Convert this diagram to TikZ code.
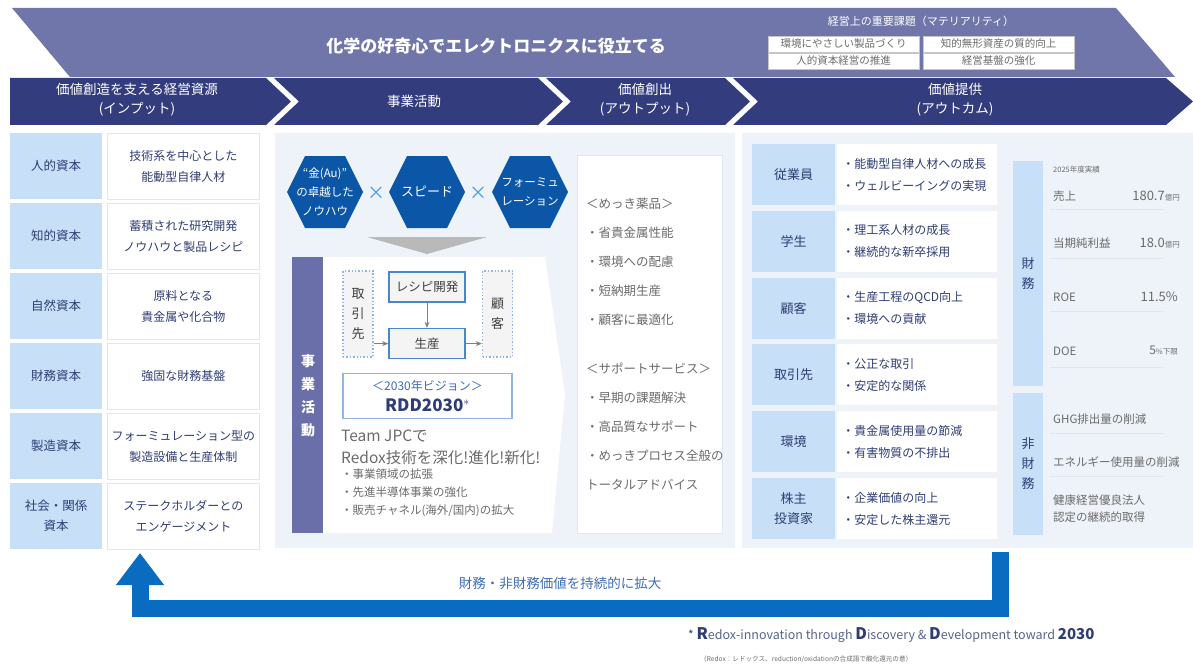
\documentclass[tikz,border=0pt]{standalone}
\usepackage{fontspec}
\setmainfont{Noto Sans CJK JP}
\usetikzlibrary{positioning,arrows.meta}

\definecolor{bannerlight}{HTML}{7076A9}
\definecolor{bannerdark}{HTML}{333D7D}
\definecolor{cellblue}{HTML}{C7E0F8}
\definecolor{panelbg}{HTML}{EEF3F9}
\definecolor{hexblue}{HTML}{0B56A6}
\definecolor{crossblue}{HTML}{3F9BE8}
\definecolor{navytext}{HTML}{2F3D73}
\definecolor{graytext}{HTML}{6B6B6B}
\definecolor{loopblue}{HTML}{0A6CC0}
\definecolor{stripviolet}{HTML}{6A6FA9}
\definecolor{framelight}{HTML}{DCE8F6}
\definecolor{stepblue}{HTML}{4A86CF}
\definecolor{boxgray}{HTML}{F4F4F4}
\definecolor{visionblue}{HTML}{3D6DB5}
\definecolor{sepgray}{HTML}{E2E6EC}

\begin{document}
\begin{tikzpicture}[x=1pt,y=-1pt,
    every node/.style={inner sep=0pt},
    bandtext/.style={text=white,align=center,font=\fontsize{13.5}{19}\selectfont},
    matbox/.style={fill=white,draw=gray!45,minimum width=151pt,minimum height=16pt,text=graytext,font=\fontsize{10.5}{12}\selectfont},
    capital/.style={fill=cellblue,text=navytext,minimum width=92pt,minimum height=66pt,align=center,font=\fontsize{12.5}{20}\selectfont},
    resource/.style={fill=white,draw=framelight,minimum width=152pt,minimum height=66pt,align=center,text=navytext,font=\fontsize{12}{21}\selectfont},
    hexlabel/.style={text=white,align=center,font=\fontsize{11.5}{19}\selectfont},
    times/.style={text=crossblue,font=\fontsize{18}{18}\selectfont},
    stepbox/.style={fill=boxgray,draw=stepblue,line width=1.6pt,minimum width=76pt,minimum height=30pt,text=darkgray,font=\fontsize{12.5}{14}\selectfont},
    partnerbox/.style={fill=boxgray,draw=stepblue!60,dotted,line width=1.4pt,minimum width=30pt,minimum height=86pt,align=center,text=darkgray,font=\fontsize{13}{20}\selectfont},
    flow/.style={-{Stealth[length=6pt,width=5pt]},draw=gray,line width=0.8pt},
    plaintext/.style={text=graytext,align=left},
    holder/.style={fill=cellblue,text=navytext,minimum width=83pt,minimum height=61pt,align=center,font=\fontsize{13}{20}\selectfont},
    gain/.style={fill=white,text=navytext,minimum height=61pt,text width=150pt,inner xsep=5pt,align=left,font=\fontsize{12}{22}\selectfont},
    finstrip/.style={fill=cellblue,text=navytext,minimum width=30pt,align=center,font=\fontsize{13}{20}\selectfont},
    fintext/.style={text=graytext,font=\fontsize{11.5}{17}\selectfont},
    sepline/.style={draw=sepgray,line width=0.8pt},
    looparrow/.style={draw=loopblue,line width=17pt,-{Triangle[width=46pt,length=32pt]}}]

\useasboundingbox (0,0) rectangle (1193,666);
\fill[white] (0,0) rectangle (1193,666);

% top banner
\fill[bannerlight] (12,8) -- (1116,8) -- (1175,77) -- (70,77) -- cycle;
\node[text=white,font=\fontsize{17}{20}\selectfont\bfseries] (motto) at (496,46) {化学の好奇心でエレクトロニクスに役立てる};
\node[text=white,font=\fontsize{11}{13}\selectfont] (materiality) at (921,21) {経営上の重要課題（マテリアリティ）};
\node[matbox] (mat1) at (843.5,44) {環境にやさしい製品づくり};
\node[matbox] (mat2) at (998.5,44) {知的無形資産の質的向上};
\node[matbox] (mat3) at (843.5,61) {人的資本経営の推進};
\node[matbox] (mat4) at (998.5,61) {経営基盤の強化};

% dark band with chevrons
\fill[bannerdark] (10,78) -- (266,78) -- (291,101.5) -- (266,125) -- (10,125) -- cycle;
\fill[bannerdark] (274,78) -- (538,78) -- (563,101.5) -- (538,125) -- (274,125) -- (299,101.5) -- cycle;
\fill[bannerdark] (546,78) -- (725,78) -- (750,101.5) -- (725,125) -- (546,125) -- (571,101.5) -- cycle;
\fill[bannerdark] (733,78) -- (1166,78) -- (1193,101.5) -- (1166,125) -- (733,125) -- (758,101.5) -- cycle;
\node[bandtext] (input) at (137,100) {価値創造を支える経営資源\\(インプット)};
\node[bandtext] (business) at (414,101) {事業活動};
\node[bandtext] (output) at (645,100) {価値創出\\(アウトプット)};
\node[bandtext] (outcome) at (955,100) {価値提供\\(アウトカム)};

% input capitals
\foreach \i/\lab/\txt in {
    0/人的資本/{技術系を中心とした\\能動型自律人材},
    1/知的資本/{蓄積された研究開発\\ノウハウと製品レシピ},
    2/自然資本/{原料となる\\貴金属や化合物},
    3/財務資本/{強固な財務基盤},
    4/製造資本/{フォーミュレーション型の\\製造設備と生産体制},
    5/{社会・関係\\資本}/{ステークホルダーとの\\エンゲージメント}}{
  \node[capital] (cap\i) at (56,166+70*\i) {\lab};
  \node[resource, right=5pt of cap\i] (res\i) {\txt};
}

% business activities panel
\fill[panelbg] (275,133) rectangle (735,548);
\foreach \cx/\name/\txt in {325/knowhow/{“金(Au)”\\の卓越した\\ノウハウ}, 427/speed/{\fontsize{13}{19}\selectfont スピード}, 530/formula/{フォーミュ\\レーション}}{
  \fill[hexblue] (\cx-38,192) -- (\cx-20,156) -- (\cx+20,156) -- (\cx+38,192) -- (\cx+20,228) -- (\cx-20,228) -- cycle;
  \node[hexlabel] (\name) at (\cx,192) {\txt};
}
\node[times] (x1) at (376,193) {×};
\node[times] (x2) at (478,193) {×};
\fill[gray!55] (367,237) -- (487,237) -- (427,254) -- cycle;

\fill[white] (292,257) -- (545,257) -- (565,395) -- (552,533) -- (292,533) -- cycle;
\fill[stripviolet] (292,257) rectangle (323,533);
\node[text=white,align=center,font=\fontsize{14}{23}\selectfont\bfseries] (activity) at (308,396) {事\\業\\活\\動};

\node[stepbox] (recipe) at (427,287) {レシピ開発};
\node[stepbox, below=25pt of recipe] (production) {生産};
\node[partnerbox] (supplier) at (358,314) {取\\引\\先};
\node[partnerbox] (customer) at (497.5,314) {顧\\客};
\draw[flow] (recipe) -- (production);
\draw[flow] (supplier.east |- production) -- (production.west);
\draw[flow] (production.east) -- (customer.west |- production);

\node[fill=white,draw=stepblue!60,line width=1.2pt,minimum width=169pt,minimum height=45pt,align=center,font=\fontsize{12}{21}\selectfont] (vision) at (427.5,396)
  {{\color{visionblue}＜2030年ビジョン＞}\\{\fontsize{17}{21}\selectfont\bfseries\color{navytext}RDD2030$^{*}$}};
\node[plaintext,anchor=north west,font=\fontsize{15.5}{22}\selectfont] (team) at (341,430) {Team JPCで\\Redox技術を深化!進化!新化!};
\node[plaintext,font=\fontsize{11.5}{18}\selectfont,below=3pt of team.south west,anchor=north west] (plans)
  {・事業領域の拡張\\・先進半導体事業の強化\\・販売チャネル(海外/国内)の拡大};

% outputs
\node[fill=white,draw=framelight,minimum width=145pt,minimum height=378pt] (products) at (649.5,344) {};
\node[plaintext,anchor=north west,font=\fontsize{12.5}{29}\selectfont] (productlist) at (586,198)
  {＜めっき薬品＞\\・省貴金属性能\\・環境への配慮\\・短納期生産\\・顧客に最適化\\[20pt]＜サポートサービス＞\\・早期の課題解決\\・高品質なサポート\\・めっきプロセス全般の\\トータルアドバイス};

% outcomes panel
\fill[panelbg] (742,133) rectangle (1193,548);
\foreach \i/\who/\txt in {
    0/従業員/{・能動型自律人材への成長\\・ウェルビーイングの実現},
    1/学生/{・理工系人材の成長\\・継続的な新卒採用},
    2/顧客/{・生産工程のQCD向上\\・環境への貢献},
    3/取引先/{・公正な取引\\・安定的な関係},
    4/環境/{・貴金属使用量の節減\\・有害物質の不排出},
    5/{株主\\投資家}/{・企業価値の向上\\・安定した株主還元}}{
  \node[holder] (sh\i) at (793.5,174.5+66.8*\i) {\who};
  \node[gain, right=2pt of sh\i] (gain\i) {\txt};
}

% financial / non-financial results
\node[finstrip,minimum height=225pt] (fin) at (1028,273.5) {財\\務};
\node[finstrip,minimum height=142pt] (nonfin) at (1028,464) {非\\財\\務};
\node[fintext,anchor=west,font=\fontsize{7.5}{9}\selectfont] (fy) at (1053,170) {2025年度実績};
\node[fintext,anchor=west] (sales) at (1053,196) {売上};
\node[fintext,anchor=east,font=\fontsize{13}{15}\selectfont] (salesv) at (1180,196) {180.7{\fontsize{7.5}{9}\selectfont 億円}};
\node[fintext,anchor=west] (profit) at (1053,243) {当期純利益};
\node[fintext,anchor=east,font=\fontsize{13}{15}\selectfont] (profitv) at (1180,243) {18.0{\fontsize{7.5}{9}\selectfont 億円}};
\node[fintext,anchor=west] (roe) at (1053,297) {ROE};
\node[fintext,anchor=east,font=\fontsize{13}{15}\selectfont] (roev) at (1178,297) {11.5\%};
\node[fintext,anchor=west] (doe) at (1053,351) {DOE};
\node[fintext,anchor=east,font=\fontsize{12}{15}\selectfont] (doev) at (1178,351) {5{\fontsize{7.5}{9}\selectfont \%下限}};
\node[fintext,anchor=west] (ghg) at (1053,419) {GHG排出量の削減};
\node[fintext,anchor=west] (energy) at (1053,462) {エネルギー使用量の削減};
\node[fintext,anchor=west,align=left] (health) at (1053,509) {健康経営優良法人\\認定の継続的取得};
\foreach \y in {209,258,311,367,433,476}
  \draw[sepline] (1050,\y) -- (1163,\y);

% feedback loop
\coordinate (loopfrom) at (1000,552);
\coordinate (loopto) at (140,553);
\draw[looparrow] (loopfrom) -- (1000,608) -- (140,608) -- (loopto);
\node[text=visionblue,font=\fontsize{13.5}{16}\selectfont] (looplabel) at (560,583) {財務・非財務価値を持続的に拡大};

% footnote
\node[anchor=west,text=navytext!80,font=\fontsize{12.5}{14}\selectfont] (note) at (688,635)
  {{\fontsize{12}{10}\selectfont\color{navytext}*} {\fontsize{16}{16}\selectfont\bfseries\color{navytext}R}edox-innovation through {\fontsize{16}{16}\selectfont\bfseries\color{navytext}D}iscovery \& {\fontsize{16}{16}\selectfont\bfseries\color{navytext}D}evelopment toward {\fontsize{15}{16}\selectfont\bfseries\color{navytext}2030}};
\node[anchor=west,text=graytext,font=\fontsize{6.6}{8}\selectfont] (note2) at (700,659) {（Redox：レドックス、reduction/oxidationの合成語で酸化還元の意）};
\end{tikzpicture}
\end{document}
